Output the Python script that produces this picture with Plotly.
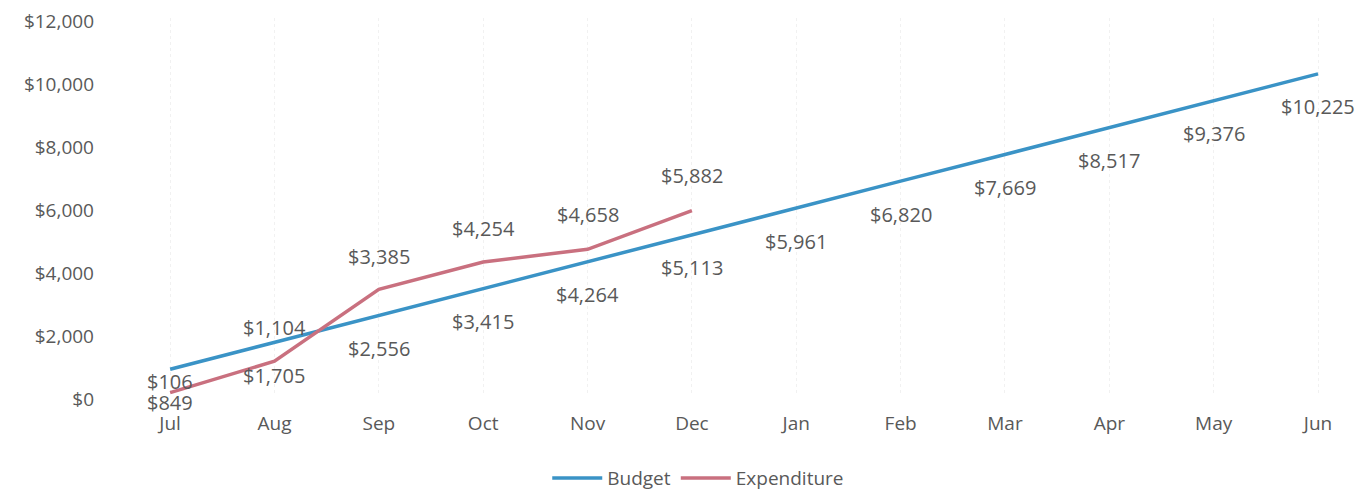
import plotly.graph_objects as go

# Monthly cumulative values (financial year Jul-Jun)
months = ["Jul", "Aug", "Sep", "Oct", "Nov", "Dec",
          "Jan", "Feb", "Mar", "Apr", "May", "Jun"]
budget = [849, 1705, 2556, 3415, 4264, 5113,
          5961, 6820, 7669, 8517, 9376, 10225]
expenditure = [106, 1104, 3385, 4254, 4658, 5882]

y_ticks = [0, 2000, 4000, 6000, 8000, 10000, 12000]

BLUE = "#3a93c6"
RED = "#c9707f"
TEXT = "#595959"
FONT = "Open Sans, sans-serif"
FS = 20

# vertical offset (px) of the data labels; Excel nudged the first one
exp_label_shift = [11, 34, 33, 34, 35, 35]

fig = go.Figure()

fig.add_trace(go.Scatter(
    x=months, y=budget, name="Budget", mode="lines",
    line=dict(color=BLUE, width=3.5),
))
fig.add_trace(go.Scatter(
    x=months[:len(expenditure)], y=expenditure, name="Expenditure", mode="lines",
    line=dict(color=RED, width=3.5),
))

# data labels: budget below the line, expenditure above
for m, v in zip(months, budget):
    fig.add_annotation(x=m, y=v, text=f"${v:,}", showarrow=False,
                       yshift=-33, font=dict(size=FS, color=TEXT, family=FONT))
for m, v, s in zip(months, expenditure, exp_label_shift):
    fig.add_annotation(x=m, y=v, text=f"${v:,}", showarrow=False,
                       yshift=s, font=dict(size=FS, color=TEXT, family=FONT))

# the page body adds an 8px margin, so the figure is 8px smaller
fig.update_layout(
    width=1358, height=485,
    margin=dict(l=87, r=1, t=10, b=97, autoexpand=False),
    paper_bgcolor="white", plot_bgcolor="white",
    font=dict(family=FONT, size=FS, color=TEXT),
    showlegend=True,
    legend=dict(orientation="h", x=0.475, xanchor="center",
                y=-0.217, yanchor="middle",
                font=dict(size=FS - 1, color=TEXT), itemwidth=50,
                bgcolor="rgba(0,0,0,0)"),
    xaxis=dict(
        type="category", range=[-0.72, 11.45],
        showgrid=True, gridcolor="#f1f1f1", griddash="dot",
        showline=False, zeroline=False, ticks="",
        tickfont=dict(size=FS - 1, color=TEXT), ticklabelstandoff=14,
        automargin=False,
    ),
    yaxis=dict(
        range=[0, 12000], tickvals=y_ticks,
        ticktext=[f"${t:,}" for t in y_ticks],
        showgrid=False, zeroline=False, showline=False, ticks="",
        tickfont=dict(size=FS - 1, color=TEXT), automargin=False,
        ticklabeloverflow="allow", ticklabelshift=3,
    ),
)

fig.write_html("out.html")
